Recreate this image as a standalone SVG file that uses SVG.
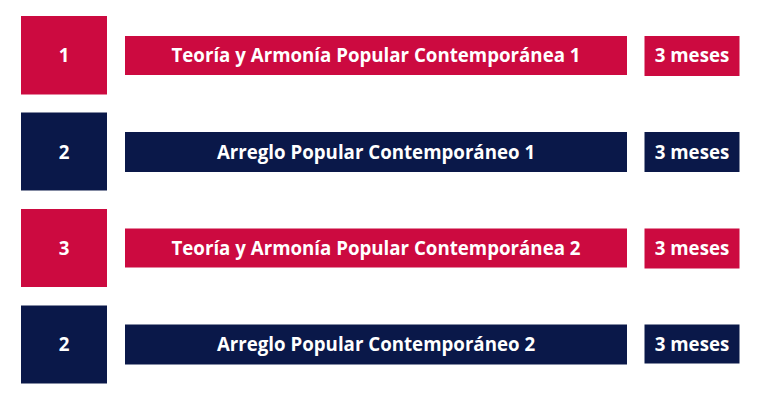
<svg xmlns="http://www.w3.org/2000/svg" width="760" height="400" viewBox="0 0 760 400">
<style>
.red{fill:#CC0A40}
.navy{fill:#0A1849}
text{font-family:"Open Sans","Noto Sans","Liberation Sans",sans-serif;font-weight:700;font-size:18.7px;fill:#FFFFFF;text-anchor:middle}
</style>
<rect width="760" height="400" fill="#FFFFFF"/>
<g id="row1">
<rect class="red" x="21" y="16" width="86" height="78.5"/>
<text x="64" y="62.3">1</text>
<rect class="red" x="125" y="36" width="502" height="39"/>
<text x="376" y="62.3">Teoría y Armonía Popular Contemporánea 1</text>
<rect class="red" x="644.5" y="36" width="95" height="40"/>
<text x="692" y="62.3">3 meses</text>
</g>
<g id="row2">
<rect class="navy" x="21" y="112.5" width="86" height="78"/>
<text x="64" y="158.8">2</text>
<rect class="navy" x="125" y="132" width="502" height="40"/>
<text x="376" y="158.8">Arreglo Popular Contemporáneo 1</text>
<rect class="navy" x="644.5" y="132" width="95" height="40"/>
<text x="692" y="158.8">3 meses</text>
</g>
<g id="row3">
<rect class="red" x="21" y="209" width="86" height="78"/>
<text x="64" y="254.8">3</text>
<rect class="red" x="125" y="228.5" width="502" height="39"/>
<text x="376" y="254.8">Teoría y Armonía Popular Contemporánea 2</text>
<rect class="red" x="644.5" y="228.5" width="95" height="40"/>
<text x="692" y="254.8">3 meses</text>
</g>
<g id="row4">
<rect class="navy" x="21" y="305.5" width="86" height="78"/>
<text x="64" y="351.3">2</text>
<rect class="navy" x="125" y="324.5" width="502" height="40"/>
<text x="376" y="351.3">Arreglo Popular Contemporáneo 2</text>
<rect class="navy" x="644.5" y="324.5" width="95" height="39"/>
<text x="692" y="351.3">3 meses</text>
</g>
<g id="connectors"/>
</svg>
